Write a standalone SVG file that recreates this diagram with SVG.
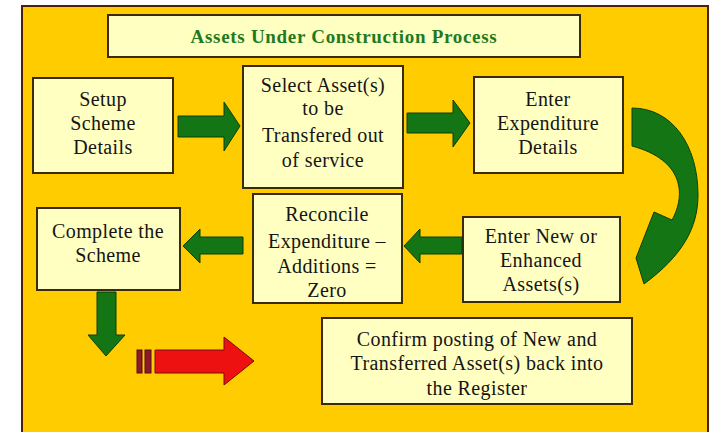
<svg xmlns="http://www.w3.org/2000/svg" width="710" height="432" viewBox="0 0 710 432">
<style>
.box{fill:#FFFFC2;stroke:#3B2A12;stroke-width:2}
.t{font-size:20px;letter-spacing:0.4px;fill:#151515;text-anchor:middle}
.g{fill:#137513;stroke:#0A3F0A;stroke-width:1}
</style>
<rect x="0" y="0" width="710" height="432" fill="#FFFFFF"/>
<rect x="22" y="6" width="686" height="430" fill="#FFCC00" stroke="#4A2208" stroke-width="2"/>
<g font-family="Liberation Serif, Times New Roman, serif">
<g id="title">
<rect class="box" x="108" y="15" width="472" height="42"/>
<text x="344" y="43" font-size="19" font-weight="bold" letter-spacing="0.7" fill="#1F7A1F" text-anchor="middle">Assets Under Construction Process</text>
</g>
<g id="setup">
<rect class="box" x="33" y="78" width="140" height="95"/>
<text class="t" x="103" y="106">Setup</text>
<text class="t" x="103" y="130">Scheme</text>
<text class="t" x="103" y="154">Details</text>
</g>
<g id="select">
<rect class="box" x="243" y="66" width="160" height="122"/>
<text class="t" x="323" y="92">Select Asset(s)</text>
<text class="t" x="323" y="115">to be</text>
<text class="t" x="323" y="142">Transfered out</text>
<text class="t" x="323" y="167">of service</text>
</g>
<g id="expenditure">
<rect class="box" x="474" y="77" width="149" height="96"/>
<text class="t" x="548" y="106">Enter</text>
<text class="t" x="548" y="130">Expenditure</text>
<text class="t" x="548" y="154">Details</text>
</g>
<g id="enternew">
<rect class="box" x="463" y="217" width="157" height="85"/>
<text class="t" x="541" y="243">Enter New or</text>
<text class="t" x="541" y="267">Enhanced</text>
<text class="t" x="541" y="291">Assets(s)</text>
</g>
<g id="reconcile">
<rect class="box" x="253" y="194" width="149" height="109"/>
<text class="t" x="327" y="221">Reconcile</text>
<text class="t" x="327" y="248">Expenditure –</text>
<text class="t" x="327" y="273">Additions =</text>
<text class="t" x="327" y="297">Zero</text>
</g>
<g id="complete">
<rect class="box" x="37" y="208" width="143" height="82"/>
<text class="t" x="108" y="238">Complete the</text>
<text class="t" x="108" y="262">Scheme</text>
</g>
<g id="confirm">
<rect class="box" x="322" y="318" width="310" height="86"/>
<text class="t" x="477" y="346">Confirm posting of New and</text>
<text class="t" x="477" y="370">Transferred Asset(s) back into</text>
<text class="t" x="477" y="395">the Register</text>
</g>
</g>
<g id="connectors">
<polygon class="g" points="178,116 224,116 224,102 240,126 224,151 224,137 178,137"/>
<polygon class="g" points="407,113 453,113 453,100 470,123 453,147 453,133 407,133"/>
<polygon class="g" points="462,237 420,237 420,229 404,246 420,263 420,254 462,254"/>
<polygon class="g" points="243,237 200,237 200,229 183,246 200,263 200,254 243,254"/>
<polygon class="g" points="97,292 116,292 116,335 125,335 106,356 88,335 97,335"/>
<path class="g" d="M632,108 C672,108 698,145 698,195 C698,228 682,256 644,284 L636,258 L654,212 L672,220 C686,195 684,160 632,146 Z"/>
<rect x="137" y="350" width="5" height="23" fill="#8B1A2A" stroke="#5A0A10" stroke-width="1"/>
<rect x="145" y="350" width="6" height="23" fill="#8B1A2A" stroke="#5A0A10" stroke-width="1"/>
<polygon points="155,350 224,350 224,337 254,361 224,385 224,373 155,373" fill="#EE1111" stroke="#7A0A0A" stroke-width="1"/>
</g>
</svg>
